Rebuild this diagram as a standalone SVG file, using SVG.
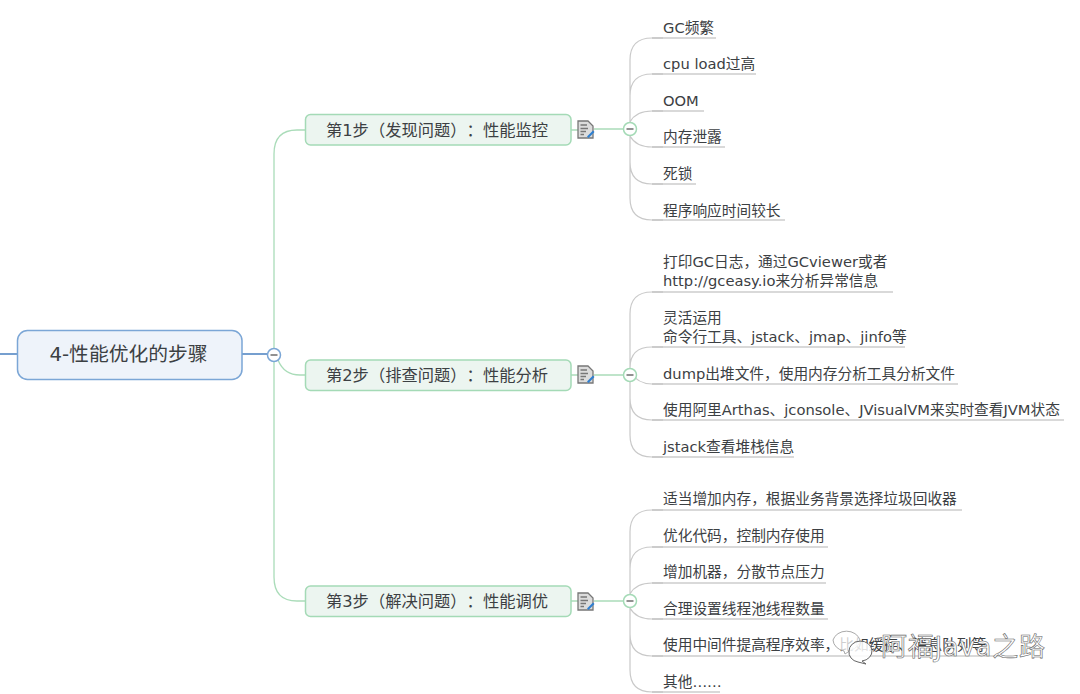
<svg xmlns="http://www.w3.org/2000/svg" width="1080" height="694" viewBox="0 0 1080 694">
<style>
text{font-family:"DejaVu Sans","Noto Sans CJK SC",sans-serif;fill:#3c4043;text-spacing-trim:space-all}
.leaf{font-size:14.7px}
.step{font-size:16.3px;text-anchor:middle}
.g{fill:none;stroke:#aadcb9;stroke-width:1.3}
.b{fill:none;stroke:#4a80c0;stroke-width:1.3}
.s{fill:none;stroke:#c9c9c9;stroke-width:1.2}
.u{fill:none;stroke:#b4b4b4;stroke-width:1.1}
.nr{fill:#ecf5f0;stroke:#a4dab6;stroke-width:1.5}
.cg{fill:#fff;stroke:#a4dab6;stroke-width:1.5}
.minus{stroke:#555;stroke-width:1.3}
.wm{font-size:26px;fill:#fff;stroke:#666;stroke-width:.6}
</style>
<defs>
<g id="note">
<path d="M0 0H10L15 5V17H0Z" fill="#dcdcdc" stroke="#777" stroke-width="1.3"/>
<path d="M2.500 4H9M2.500 7.500H10M2.500 10.500H8M2.500 13.500H6" stroke="#777" stroke-width="1.3"/>
<path d="M9 15.500L15 9.500L16.500 11L10.500 17Z" fill="#2f7fd0"/>
</g>
<g id="minus"><path d="M-3.500 0H3.500" class="minus"/></g>
</defs>
<g id="connectors">
<path class="b" d="M0 354H17M242 354H268"/>
<path class="g" d="M274 361V154Q274 130 297 130H305M274 361V577Q274 601 297 601H305M278 360Q284 375 300 375H305"/>
<path class="g" d="M571 130H578M594 129H624M571 375H578M594 375H624M571 601H578M594 601H624"/>
<path class="s" d="M630 122V60Q630 38 652 38H663M630 122V96Q630 74 652 74H663M630 122Q636 111 652 111H663M630 136Q636 147 652 147H663M630 136V162Q630 184 652 184H663M630 136V198Q630 220 652 220H663"/>
<path class="s" d="M630 368V314Q630 292 652 292H663M630 368Q630 347 652 347H663M630 372Q638 384 652 384H663M630 382V398Q630 420 652 420H663M630 382V435Q630 457 652 457H663"/>
<path class="s" d="M630 594V532Q630 510 652 510H663M630 594V569Q630 547 652 547H663M630 594Q636 583 652 583H663M630 608Q636 619 652 619H663M630 608V634Q630 656 652 656H663M630 608V670Q630 692 652 692H663"/>
<path class="u" d="M652 38H716M652 74H756M652 111H704M652 147H725M652 184H696M652 220H785M652 292H893M652 347H905M652 384H958M652 420H1064M652 457H794M652 510H962M652 547H828M652 583H826M652 619H828M652 656H1000M652 692H720"/>
</g>
<g id="root">
<rect x="17.500" y="330.500" width="224.500" height="49" rx="10" fill="#eef3fa" stroke="#7ba6d6" stroke-width="1.5"/>
<text x="128.500" y="361" font-size="19.800" text-anchor="middle">4-性能优化的步骤</text>
<circle cx="274" cy="355" r="6.500" fill="#fff" stroke="#7ba6d6" stroke-width="1.5"/><use href="#minus" x="274" y="355"/>
</g>
<g id="step1">
<rect class="nr" x="305.500" y="114.500" width="265.500" height="30.500" rx="5"/>
<text class="step" x="437" y="135.500">第1步（发现问题）：性能监控</text>
<use href="#note" x="578" y="121"/>
<circle class="cg" cx="630" cy="129" r="6.500"/><use href="#minus" x="630" y="129"/>
</g>
<g id="step2">
<rect class="nr" x="305.500" y="360" width="265.500" height="30.500" rx="5"/>
<text class="step" x="437" y="381">第2步（排查问题）：性能分析</text>
<use href="#note" x="578" y="366"/>
<circle class="cg" cx="630" cy="375" r="6.500"/><use href="#minus" x="630" y="375"/>
</g>
<g id="step3">
<rect class="nr" x="305.500" y="586" width="265.500" height="30.500" rx="5"/>
<text class="step" x="437" y="607">第3步（解决问题）：性能调优</text>
<use href="#note" x="578" y="593"/>
<circle class="cg" cx="630" cy="601" r="6.500"/><use href="#minus" x="630" y="601"/>
</g>
<g id="leaves1" class="leaf">
<text x="663" y="33">GC频繁</text>
<text x="663" y="69">cpu load过高</text>
<text x="663" y="106">OOM</text>
<text x="663" y="142">内存泄露</text>
<text x="663" y="179">死锁</text>
<text x="663" y="216">程序响应时间较长</text>
</g>
<g id="leaves2" class="leaf">
<text x="663" y="267">打印GC日志，通过GCviewer或者</text>
<text x="663" y="286">http://gceasy.io来分析异常信息</text>
<text x="663" y="323">灵活运用</text>
<text x="663" y="342">命令行工具、jstack、jmap、jinfo等</text>
<text x="663" y="379">dump出堆文件，使用内存分析工具分析文件</text>
<text x="663" y="415">使用阿里Arthas、jconsole、JVisualVM来实时查看JVM状态</text>
<text x="663" y="452">jstack查看堆栈信息</text>
</g>
<g id="leaves3" class="leaf">
<text x="663" y="504">适当增加内存，根据业务背景选择垃圾回收器</text>
<text x="663" y="541">优化代码，控制内存使用</text>
<text x="663" y="577">增加机器，分散节点压力</text>
<text x="663" y="614">合理设置线程池线程数量</text>
<text x="663" y="650">使用中间件提高程序效率，比如缓存、消息队列等</text>
<text x="663" y="687">其他……</text>
</g>
<g id="watermark">
<path d="M833 640a14 12 0 0 1 27 0a14 12 0 0 1-9 10l-6 4l-1-3a14 12 0 0 1-11-11Z" fill="#fff" fill-opacity=".75" stroke="#aaa" stroke-width="1"/>
<path d="M849 651a11.500 10 0 1 1 13 10l4 3l-8-2a11.500 10 0 0 1-9-11Z" fill="#fff" fill-opacity=".85" stroke="#666" stroke-width="1"/>
<text class="wm" x="881" y="656" textLength="164">阿福Java之路</text>
</g>
</svg>
